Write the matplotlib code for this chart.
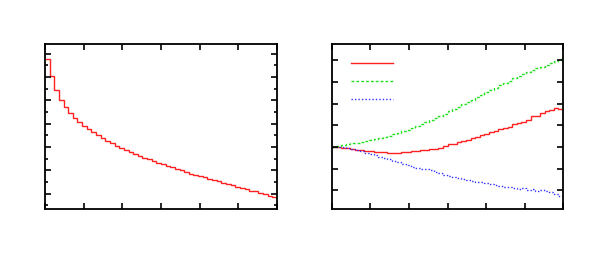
import numpy as np
import matplotlib
matplotlib.use('Agg')
import matplotlib.pyplot as plt
from matplotlib.lines import Line2D

# left panel: one falling histogram, 50 bins
left_vals = [6.41, 5.72, 5.09, 4.68, 4.38, 4.12, 3.92, 3.74, 3.56, 3.41,
             3.28, 3.15, 3.03, 2.92, 2.82, 2.72, 2.62, 2.53, 2.44, 2.36,
             2.27, 2.20, 2.13, 2.05, 1.98, 1.91, 1.85, 1.78, 1.71, 1.65,
             1.58, 1.52, 1.47, 1.41, 1.35, 1.29, 1.24, 1.18, 1.12, 1.06,
             1.01, 0.95, 0.91, 0.85, 0.79, 0.75, 0.69, 0.63, 0.57, 0.52]

# right panel: three histograms starting from the same point
red_vals = [0.00, -0.02, -0.03, -0.06, -0.09, -0.12, -0.15, -0.18, -0.20, -0.23,
            -0.25, -0.25, -0.26, -0.26, -0.26, -0.25, -0.23, -0.20, -0.18, -0.15,
            -0.14, -0.11, -0.08, -0.03, 0.03, 0.12, 0.15, 0.22, 0.28, 0.34,
            0.40, 0.48, 0.55, 0.60, 0.68, 0.75, 0.81, 0.86, 0.92, 1.04,
            1.09, 1.14, 1.24, 1.43, 1.44, 1.57, 1.66, 1.72, 1.80, 1.75]
green_vals = [0.00, 0.06, 0.09, 0.12, 0.17, 0.20, 0.23, 0.26, 0.31, 0.35,
              0.40, 0.46, 0.52, 0.58, 0.65, 0.72, 0.80, 0.88, 0.98, 1.06,
              1.14, 1.24, 1.34, 1.43, 1.54, 1.64, 1.75, 1.86, 1.97, 2.07,
              2.18, 2.30, 2.41, 2.52, 2.63, 2.73, 2.84, 2.95, 3.06, 3.16,
              3.26, 3.35, 3.44, 3.53, 3.63, 3.70, 3.79, 3.89, 3.98, 4.04]
blue_vals = [0.00, 0.00, -0.02, -0.05, -0.08, -0.14, -0.20, -0.26, -0.32, -0.38,
             -0.45, -0.51, -0.57, -0.63, -0.69, -0.77, -0.84, -0.92, -0.95, -1.00,
             -1.03, -1.08, -1.14, -1.18, -1.29, -1.34, -1.40, -1.44, -1.46, -1.51,
             -1.55, -1.60, -1.63, -1.66, -1.71, -1.74, -1.80, -1.84, -1.83, -1.90,
             -1.94, -1.90, -1.98, -1.94, -2.03, -1.97, -2.01, -2.09, -2.15, -2.24]

edges = np.linspace(0, 6, len(left_vals) + 1)

fig = plt.figure(figsize=(5.91, 2.56), dpi=100)
ax1 = fig.add_axes([45/591, 47/256, 232/591, 165/256])
ax2 = fig.add_axes([332/591, 47/256, 231/591, 165/256])

ax1.stairs(left_vals, edges, baseline=None, color='#ff2020', lw=1.0)
ax1.set_xlim(0, 6)
ax1.set_ylim(0, 7.07)
ax1.set_xticks(np.arange(0, 7, 1))
ax1.set_yticks(np.arange(0.65, 7.1, 1))
ax1.set_yticks(np.arange(0.15, 7.1, 1), minor=True)

r = ax2.stairs(red_vals, edges, baseline=None, color='#ff2020', lw=1.0)
g = ax2.stairs(green_vals, edges, baseline=None, color='#20e020', lw=1.0, ls=(0, (2, 1.5)))
b = ax2.stairs(blue_vals, edges, baseline=None, color='#3030ff', lw=1.0, ls=(0, (1, 1.5)))
ax2.set_xlim(0, 6)
ax2.set_ylim(-2.86, 4.75)
ax2.set_xticks(np.arange(0, 7, 1))
ax2.set_yticks(np.arange(-2, 4.5, 1))

handles = [Line2D([], [], color='#ff2020', lw=1.0),
           Line2D([], [], color='#20e020', lw=1.0, ls=(0, (2, 1.5))),
           Line2D([], [], color='#3030ff', lw=1.0, ls=(0, (1, 1.5)))]
ax2.legend(handles, [' ', ' ', ' '], loc='upper left', bbox_to_anchor=(0.03, 1.0),
           frameon=False, handlelength=3.0, labelspacing=0.3, fontsize=10)

for ax in (ax1, ax2):
    ax.tick_params(which='both', direction='in', top=True, right=True,
                   labelbottom=False, labelleft=False, width=1.2)
    ax.tick_params(which='major', length=4.5)
    ax.tick_params(which='minor', length=2.5)
    for s in ax.spines.values():
        s.set_linewidth(1.3)

fig.savefig('out.png', dpi=100)
